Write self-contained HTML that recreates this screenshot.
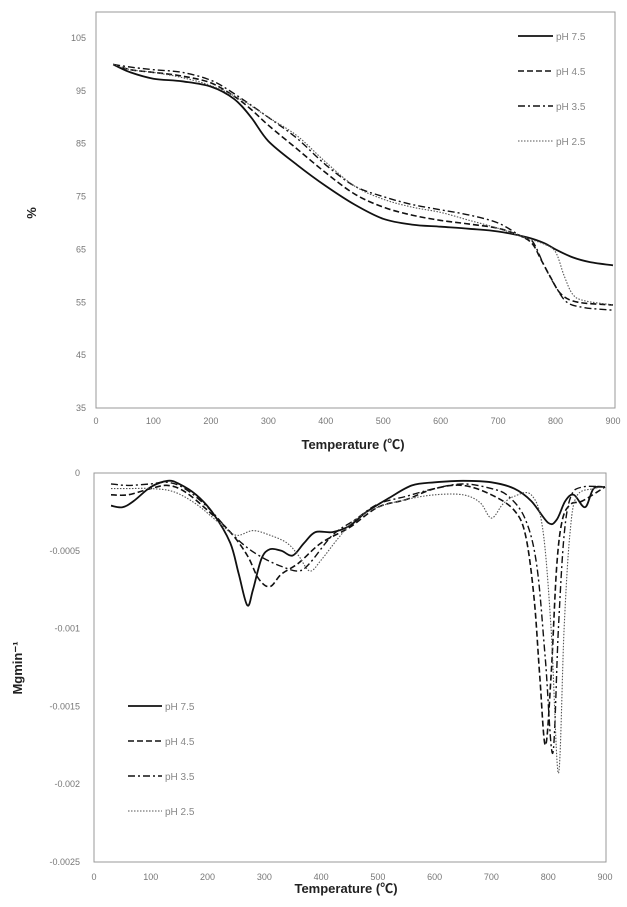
<!DOCTYPE html>
<html><head><meta charset="utf-8">
<style>
body{margin:0;background:#fff;width:627px;height:907px;overflow:hidden;font-family:"Liberation Sans","Noto Sans CJK SC",sans-serif}
svg{display:block}
.tick{font-size:9px;fill:#777}
.title{font-size:13px;font-weight:bold;fill:#222}
.leg{font-size:10px;fill:#888}
</style></head><body>
<svg id="c" width="627" height="907"></svg>
<script>
const temps75=[30,60,100,150,200,240,270,300,350,400,450,500,550,600,650,700,750,780,800,830,860,900];
const tga75=[100,98.5,97.3,96.8,95.8,93.5,90,85.5,81,77,73.5,70.8,69.7,69.3,68.9,68.4,67.3,66.2,65,63.5,62.6,62];
const temps45=[30,60,100,150,200,240,270,300,350,400,450,500,550,600,650,700,740,760,775,790,810,840,900];
const tga45=[100,99,98.5,97.8,96.5,94,91.5,88.5,84,79.5,75.5,73,71.5,70.5,69.8,69,67.5,66,63,60,56.5,55,54.5];
const temps35=[30,60,100,150,200,240,300,350,400,450,500,550,600,650,700,740,760,780,800,820,850,900];
const tga35=[100,99.5,99,98.5,97,94.5,90,86,81,77,75,73.5,72.5,71.5,70,67.5,66.5,62,58,55,54,53.5];
const temps25=[30,60,100,150,200,250,300,350,400,450,500,550,600,650,700,740,780,800,815,830,850,900];
const tga25=[100,99,98.5,97.5,96,93.5,90,86.5,81.5,77,74.5,73,72,70.5,69,67.5,66,64.5,60,56.5,55.3,54.5];
const tgaTicks=[35,45,55,65,75,85,95,105];
const xTicks=[0,100,200,300,400,500,600,700,800,900];

const dt75=[30,50,70,100,130,150,180,210,240,255,270,280,295,310,330,350,370,390,420,450,480,520,560,600,650,700,740,770,800,815,830,845,865,880,900];
const dtg75=[-2.1,-2.2,-1.8,-0.9,-0.5,-0.7,-1.4,-2.6,-4.5,-6.5,-8.5,-7.5,-5.5,-4.9,-5.0,-5.3,-4.5,-3.8,-3.8,-3.4,-2.5,-1.6,-0.8,-0.6,-0.5,-0.6,-1.0,-1.8,-3.2,-3.0,-1.8,-1.4,-2.2,-1.0,-0.9];
const dt45=[30,60,100,130,160,200,240,270,290,310,330,360,400,450,500,550,600,650,700,740,760,775,785,795,805,815,825,840,860,900];
const dtg45=[-1.4,-1.4,-1.0,-0.8,-1.2,-2.4,-3.8,-5.3,-6.8,-7.3,-6.5,-5.8,-4.5,-3.5,-2.2,-1.7,-1.0,-0.8,-1.4,-2.4,-4.0,-8,-13,-17.5,-13,-6,-3,-2,-1.8,-0.9];
const dt35=[30,60,100,130,160,200,240,270,300,330,360,380,420,460,500,550,600,650,700,730,760,780,795,808,818,828,840,860,900];
const dtg35=[-0.7,-0.8,-0.7,-0.6,-1.0,-2.2,-3.8,-4.8,-5.5,-6.0,-6.3,-5.8,-4.0,-3.0,-2.0,-1.5,-1.0,-0.7,-1.0,-1.5,-3.0,-6,-12,-18,-10,-4,-1.5,-0.9,-0.9];
const dt25=[30,60,100,140,180,220,250,280,310,340,360,380,400,430,460,500,550,600,650,680,700,720,740,770,790,805,818,828,838,850,880,900];
const dtg25=[-1.0,-1.0,-1.0,-1.2,-2.0,-3.2,-4.0,-3.7,-4.0,-4.5,-5.3,-6.3,-5.6,-4.2,-3.0,-2.2,-1.7,-1.4,-1.4,-1.9,-2.9,-2.0,-1.5,-1.4,-3.5,-10,-19.3,-10,-4,-1.5,-1.0,-0.9];
const dtgTicks=[0,-5,-10,-15,-20,-25];
const dtgTickLabels=["0","-0.0005","-0.001","-0.0015","-0.002","-0.0025"];

const svg=document.getElementById('c');
const NS='http://www.w3.org/2000/svg';
function mk(tag,attrs,name,txt){const e=document.createElementNS(NS,tag);for(const k in attrs)e.setAttribute(k,attrs[k]);


if(txt!==undefined)e.textContent=txt;svg.appendChild(e);return e;}
function smooth(pts){
 let d='M'+pts[0][0].toFixed(1)+','+pts[0][1].toFixed(1);
 for(let i=0;i<pts.length-1;i++){
  const p0=pts[Math.max(0,i-1)],p1=pts[i],p2=pts[i+1],p3=pts[Math.min(pts.length-1,i+2)];
  const c1x=p1[0]+(p2[0]-p0[0])/6,c1y=p1[1]+(p2[1]-p0[1])/6;
  const c2x=p2[0]-(p3[0]-p1[0])/6,c2y=p2[1]-(p3[1]-p1[1])/6;
  d+='C'+c1x.toFixed(1)+','+c1y.toFixed(1)+' '+c2x.toFixed(1)+','+c2y.toFixed(1)+' '+p2[0].toFixed(1)+','+p2[1].toFixed(1);
 }
 return d;
}

const styles=[
 {w:1.8,d:'',c:'#111'},
 {w:1.6,d:'6,3',c:'#111'},
 {w:1.4,d:'7,3,2,3',c:'#111'},
 {w:1.1,d:'1.5,1.5',c:'#555'}];
const labels=['pH 7.5','pH 4.5','pH 3.5','pH 2.5'];

// top chart
const tx=v=>96+v*(613-96)/900, ty=v=>408-(v-35)*(370/70);
mk('rect',{x:96,y:12,width:519,height:396,fill:'none',stroke:'#999','stroke-width':1},'tga-plot-frame');
tgaTicks.forEach(t=>mk('text',{x:86,y:ty(t)+3,'text-anchor':'end',class:'tick'},'tga-y-tick',t));
xTicks.forEach(t=>mk('text',{x:tx(t),y:424,'text-anchor':'middle',class:'tick'},'tga-x-tick',t));
mk('text',{x:0,y:0,class:'title','font-size':'15',transform:'translate(36,213) rotate(-90)','text-anchor':'middle'},'tga-y-axis-title','%');
mk('text',{x:353,y:449,'text-anchor':'middle',class:'title'},'tga-x-axis-title','Temperature (℃)');
[[temps75,tga75],[temps45,tga45],[temps35,tga35],[temps25,tga25]].forEach((s,i)=>{
 const p=smooth(s[0].map((t,j)=>[tx(t),ty(s[1][j])]));
 mk('path',{d:p,fill:'none',stroke:styles[i].c,'stroke-width':styles[i].w,'stroke-dasharray':styles[i].d,'stroke-linejoin':'round'},'tga-line-'+labels[i].replace(/[ .]/g,''));
 const ly=36+i*35;
 mk('line',{x1:518,y1:ly,x2:553,y2:ly,stroke:styles[i].c,'stroke-width':styles[i].w,'stroke-dasharray':styles[i].d},'tga-legend-swatch');
 mk('text',{x:556,y:ly+4,class:'leg'},'tga-legend-label',labels[i]);
});

// bottom chart
const bx=v=>94+v*(605-94)/900, by=v=>473-v*(389/25);
mk('rect',{x:94,y:473,width:512,height:389,fill:'none',stroke:'#999','stroke-width':1},'dtg-plot-frame');
dtgTicks.forEach((t,i)=>mk('text',{x:80,y:by(t)+3,'text-anchor':'end',class:'tick'},'dtg-y-tick',dtgTickLabels[i]));
xTicks.forEach(t=>mk('text',{x:bx(t),y:880,'text-anchor':'middle',class:'tick'},'dtg-x-tick',t));
mk('text',{x:0,y:0,class:'title',transform:'translate(22,668) rotate(-90)','text-anchor':'middle'},'dtg-y-axis-title','Mgmin⁻¹');
mk('text',{x:346,y:893,'text-anchor':'middle',class:'title'},'dtg-x-axis-title','Temperature (℃)');
[[dt75,dtg75],[dt45,dtg45],[dt35,dtg35],[dt25,dtg25]].forEach((s,i)=>{
 const p=smooth(s[0].map((t,j)=>[bx(t),by(s[1][j])]));
 mk('path',{d:p,fill:'none',stroke:styles[i].c,'stroke-width':styles[i].w,'stroke-dasharray':styles[i].d,'stroke-linejoin':'round'},'dtg-line-'+labels[i].replace(/[ .]/g,''));
 const ly=706+i*35;
 mk('line',{x1:128,y1:ly,x2:162,y2:ly,stroke:styles[i].c,'stroke-width':styles[i].w,'stroke-dasharray':styles[i].d},'dtg-legend-swatch');
 mk('text',{x:165,y:ly+4,class:'leg'},'dtg-legend-label',labels[i]);
});
</script>
</body></html>
